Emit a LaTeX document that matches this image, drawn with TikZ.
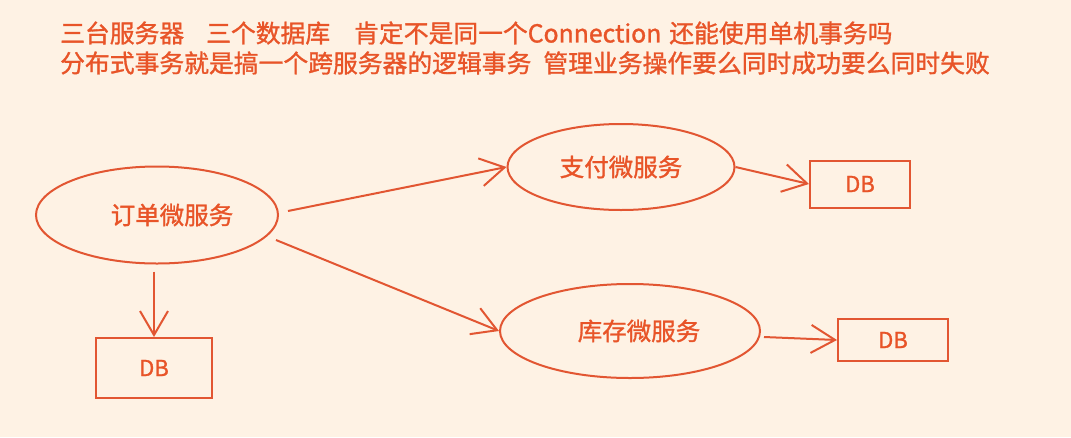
\documentclass[tikz,border=0pt]{standalone}
\usepackage{fontspec}
\setmainfont{Noto Sans CJK SC}[FakeBold=1.2, AutoFakeBold=1.2]
\usetikzlibrary{arrows.meta,shapes.geometric}
\definecolor{bg}{RGB}{254,242,228}
\definecolor{ink}{RGB}{226,86,50}
\definecolor{txt}{RGB}{232,84,40}
\tikzset{
  svc/.style={draw=ink, line width=2pt, ellipse, inner sep=0pt, text=txt, font=\fontsize{24.5}{26}\selectfont},
  dbbox/.style={draw=ink, line width=2pt, rectangle, inner sep=0pt, text=txt, font=\fontsize{22}{24}\selectfont},
  arr/.style={draw=ink, line width=2pt, -{Straight Barb[length=24pt, width=28pt, line width=2pt]}},
  title/.style={anchor=west, inner sep=0pt, text=txt, font=\fontsize{24.8}{26}\selectfont}
}
\begin{document}
\begin{tikzpicture}[x=1pt, y=-1pt]
\fill[bg] (0,0) rectangle (1071,437);
\useasboundingbox (0,0) rectangle (1071,437);
\node[title] (t1) at (60,33) {三台服务器\hspace{22pt}三个数据库\hspace{24pt}肯定不是同一个Connection\hspace{8pt}还能使用单机事务吗};
\node[title] (t2) at (60,63) {分布式事务就是搞一个跨服务器的逻辑事务\hspace{12pt}管理业务操作要么同时成功要么同时失败};
\node[svc, minimum width=242pt, minimum height=97pt] (order) at (157,215) {\hspace{30pt}订单微服务};
\node[svc, minimum width=227pt, minimum height=86pt] (pay) at (621,167) {支付微服务};
\node[svc, minimum width=260pt, minimum height=94pt] (stock) at (630,331) {\hspace{18pt}库存微服务};
\node[dbbox, minimum width=116pt, minimum height=60pt] (dbl) at (154,368) {DB};
\node[dbbox, minimum width=100pt, minimum height=47pt] (dbp) at (860,184) {DB};
\node[dbbox, minimum width=110pt, minimum height=42pt] (dbs) at (893,340) {DB};
\draw[arr] (order.east) ++(9,-4) -- (pay.west);
\draw[arr] (order.east) ++(-3,25) -- (stock.west);
\draw[arr] (pay.east) -- (dbp.west);
\draw[arr] (stock.east) ++(3,6) -- (dbs.west);
\draw[arr] (order.south -| dbl.north) ++(0,7) -- (dbl.north);
\end{tikzpicture}
\end{document}
